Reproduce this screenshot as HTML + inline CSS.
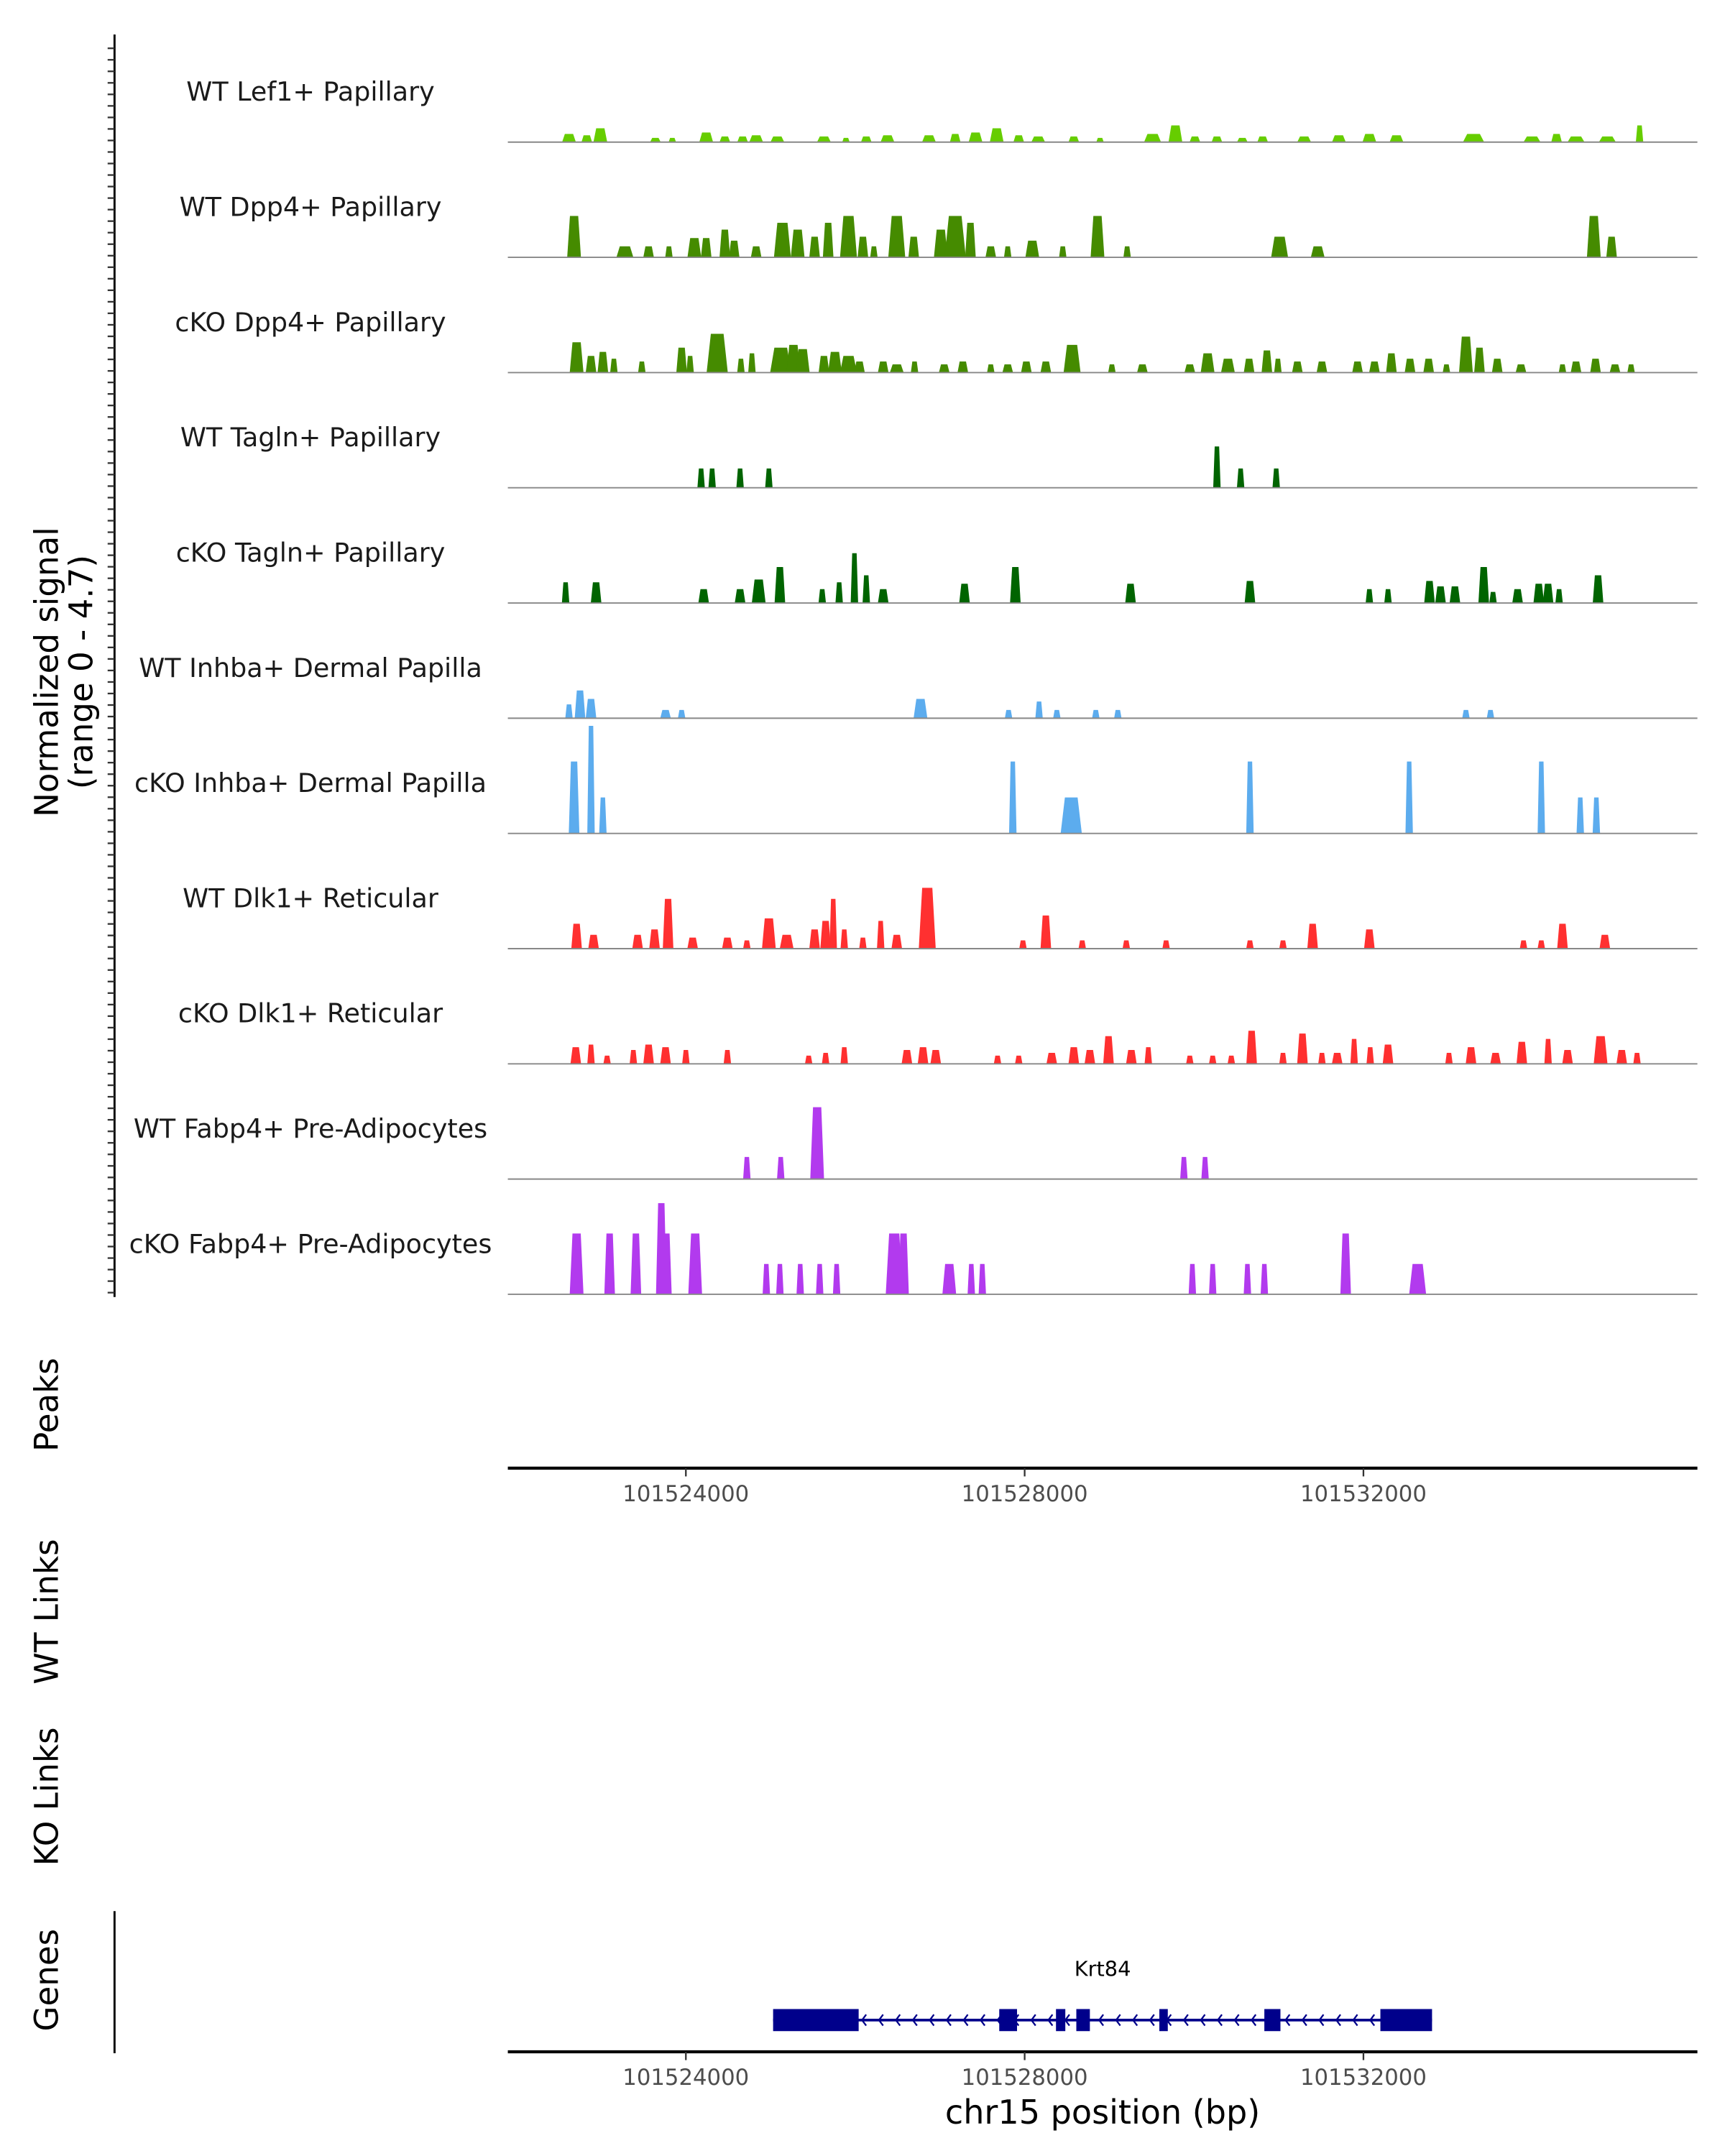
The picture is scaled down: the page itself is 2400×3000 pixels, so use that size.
<!DOCTYPE html>
<html><head><meta charset="utf-8"><title>Coverage plot Krt84</title>
<style>html,body{margin:0;padding:0;background:#fff}svg{display:block}text{font-family:"DejaVu Sans","Liberation Sans",sans-serif}</style>
</head><body>
<svg id="chart" xmlns="http://www.w3.org/2000/svg" width="2400" height="3000" viewBox="0 0 1250 1562.5"></svg>
<script>
// Genomic window (bp) and axis ticks
const regionStart = 101521898;
const regionEnd = 101535943;
const xTicks = [101524000, 101528000, 101532000];
const signalMax = 4.7;
// track names and colours
const trackNames = ["WT Lef1+ Papillary","WT Dpp4+ Papillary","cKO Dpp4+ Papillary","WT Tagln+ Papillary","cKO Tagln+ Papillary","WT Inhba+ Dermal Papilla","cKO Inhba+ Dermal Papilla","WT Dlk1+ Reticular","cKO Dlk1+ Reticular","WT Fabp4+ Pre-Adipocytes","cKO Fabp4+ Pre-Adipocytes"];
const trackColors = ["#66CD00","#458B00","#458B00","#006400","#006400","#5CACEE","#5CACEE","#FF3030","#FF3030","#B23AEE","#B23AEE"];
// peaks: [kb offset from 101520000, width kb, signal]
const lef1WT = [[2.62,0.13,0.35],[2.83,0.1,0.29],[2.99,0.13,0.59],[3.64,0.1,0.18],[3.84,0.07,0.18],[4.24,0.13,0.41],[4.46,0.1,0.24],[4.67,0.1,0.24],[4.83,0.13,0.29],[5.08,0.13,0.24],[5.63,0.13,0.24],[5.89,0.07,0.18],[6.13,0.1,0.24],[6.38,0.13,0.29],[6.87,0.13,0.29],[7.18,0.1,0.35],[7.42,0.13,0.41],[7.67,0.13,0.59],[7.93,0.1,0.29],[8.16,0.13,0.24],[8.58,0.1,0.24],[8.89,0.07,0.18],[9.51,0.16,0.35],[9.78,0.13,0.71],[10.01,0.1,0.24],[10.27,0.1,0.24],[10.57,0.1,0.18],[10.81,0.1,0.24],[11.3,0.13,0.24],[11.71,0.13,0.29],[12.07,0.13,0.35],[12.39,0.13,0.29],[13.3,0.2,0.35],[13.99,0.16,0.24],[14.28,0.1,0.35],[14.51,0.16,0.24],[14.88,0.16,0.24],[15.26,0.07,0.71]];
const dpp4WT = [[2.68,0.13,1.76],[3.28,0.16,0.47],[3.56,0.1,0.47],[3.8,0.07,0.47],[4.1,0.13,0.82],[4.24,0.1,0.82],[4.46,0.1,1.18],[4.57,0.1,0.71],[4.83,0.1,0.47],[5.14,0.16,1.47],[5.32,0.13,1.18],[5.52,0.1,0.88],[5.68,0.1,1.47],[5.92,0.16,1.76],[6.09,0.1,0.88],[6.22,0.07,0.47],[6.49,0.16,1.76],[6.69,0.1,0.88],[7.01,0.13,1.18],[7.18,0.2,1.76],[7.36,0.1,1.47],[7.6,0.1,0.47],[7.8,0.07,0.47],[8.09,0.13,0.71],[8.45,0.07,0.47],[8.86,0.13,1.76],[9.21,0.07,0.47],[11.01,0.16,0.88],[11.46,0.13,0.47],[14.72,0.13,1.76],[14.93,0.1,0.88]];
const dpp4KO = [[2.71,0.13,1.29],[2.88,0.1,0.71],[3.02,0.1,0.88],[3.15,0.07,0.59],[3.48,0.07,0.47],[3.95,0.1,1.06],[4.05,0.07,0.71],[4.37,0.2,1.65],[4.65,0.07,0.59],[4.78,0.07,0.82],[5.12,0.2,1.06],[5.27,0.13,1.18],[5.38,0.13,1.0],[5.63,0.1,0.71],[5.76,0.13,0.88],[5.92,0.16,0.71],[6.05,0.1,0.47],[6.33,0.1,0.47],[6.49,0.13,0.35],[6.7,0.07,0.47],[7.05,0.1,0.35],[7.27,0.1,0.47],[7.6,0.07,0.35],[7.8,0.1,0.35],[8.02,0.1,0.47],[8.25,0.1,0.47],[8.56,0.16,1.18],[9.03,0.07,0.35],[9.39,0.1,0.35],[9.95,0.1,0.35],[10.16,0.13,0.82],[10.4,0.13,0.59],[10.65,0.1,0.59],[10.86,0.1,0.94],[10.99,0.07,0.59],[11.22,0.1,0.47],[11.51,0.1,0.47],[11.93,0.1,0.47],[12.13,0.1,0.47],[12.33,0.1,0.82],[12.55,0.1,0.59],[12.77,0.1,0.59],[12.98,0.07,0.35],[13.21,0.13,1.53],[13.37,0.1,1.06],[13.58,0.1,0.59],[13.86,0.1,0.35],[14.35,0.07,0.35],[14.51,0.1,0.47],[14.74,0.1,0.59],[14.97,0.1,0.35],[15.16,0.07,0.35]];
const taglnWT = [[4.18,0.07,0.82],[4.31,0.07,0.82],[4.64,0.07,0.82],[4.98,0.07,0.82],[10.27,0.07,1.76],[10.55,0.07,0.82],[10.97,0.07,0.82]];
const taglnKO = [[2.58,0.07,0.88],[2.94,0.1,0.88],[4.21,0.1,0.59],[4.64,0.1,0.59],[4.86,0.13,1.0],[5.11,0.1,1.53],[5.61,0.07,0.59],[5.81,0.07,0.88],[5.99,0.07,2.12],[6.13,0.07,1.18],[6.33,0.1,0.59],[7.29,0.1,0.82],[7.89,0.1,1.53],[9.25,0.1,0.82],[10.66,0.1,0.94],[12.07,0.07,0.59],[12.29,0.07,0.59],[12.78,0.1,0.94],[12.91,0.1,0.71],[13.08,0.1,0.71],[13.42,0.1,1.53],[13.53,0.07,0.47],[13.82,0.1,0.59],[14.07,0.1,0.82],[14.18,0.1,0.82],[14.31,0.07,0.59],[14.77,0.1,1.18]];
const inhbaWT = [[2.62,0.07,0.59],[2.75,0.1,1.18],[2.88,0.1,0.82],[3.76,0.1,0.35],[3.95,0.07,0.35],[6.77,0.13,0.82],[7.81,0.07,0.35],[8.17,0.07,0.71],[8.38,0.07,0.35],[8.84,0.07,0.35],[9.1,0.07,0.35],[13.21,0.07,0.35],[13.5,0.07,0.35]];
const inhbaKO = [[2.68,0.1,3.06],[2.88,0.07,4.58],[3.02,0.07,1.53],[7.86,0.07,3.06],[8.55,0.2,1.53],[10.66,0.07,3.06],[12.54,0.07,3.06],[14.1,0.07,3.06],[14.56,0.07,1.53],[14.75,0.07,1.53]];
const dlk1WT = [[2.71,0.1,1.06],[2.91,0.1,0.59],[3.43,0.1,0.59],[3.63,0.1,0.82],[3.79,0.1,2.12],[4.08,0.1,0.47],[4.49,0.1,0.47],[4.72,0.07,0.35],[4.98,0.13,1.29],[5.19,0.13,0.59],[5.52,0.1,0.82],[5.65,0.1,1.18],[5.74,0.07,2.12],[5.87,0.07,0.82],[6.09,0.07,0.47],[6.3,0.07,1.18],[6.49,0.1,0.59],[6.85,0.16,2.59],[7.98,0.07,0.35],[8.25,0.1,1.41],[8.68,0.07,0.35],[9.2,0.07,0.35],[9.67,0.07,0.35],[10.66,0.07,0.35],[11.05,0.07,0.35],[11.4,0.1,1.06],[12.07,0.1,0.82],[13.89,0.07,0.35],[14.1,0.07,0.35],[14.35,0.1,1.06],[14.85,0.1,0.59]];
const dlk1KO = [[2.7,0.1,0.71],[2.88,0.07,0.82],[3.07,0.07,0.35],[3.38,0.07,0.59],[3.56,0.1,0.82],[3.76,0.1,0.71],[4.0,0.07,0.59],[4.49,0.07,0.59],[5.45,0.07,0.35],[5.65,0.07,0.47],[5.87,0.07,0.71],[6.61,0.1,0.59],[6.8,0.1,0.71],[6.95,0.1,0.59],[7.68,0.07,0.35],[7.93,0.07,0.35],[8.32,0.1,0.47],[8.58,0.1,0.71],[8.77,0.1,0.59],[8.99,0.1,1.18],[9.26,0.1,0.59],[9.46,0.07,0.71],[9.95,0.07,0.35],[10.22,0.07,0.35],[10.44,0.07,0.35],[10.68,0.1,1.41],[11.05,0.07,0.47],[11.28,0.1,1.29],[11.51,0.07,0.47],[11.69,0.1,0.47],[11.89,0.07,1.06],[12.08,0.07,0.71],[12.29,0.1,0.82],[13.01,0.07,0.47],[13.27,0.1,0.71],[13.56,0.1,0.47],[13.87,0.1,0.94],[14.18,0.07,1.06],[14.41,0.1,0.59],[14.8,0.13,1.18],[15.05,0.1,0.59],[15.23,0.07,0.47]];
const fabp4WT = [[4.72,0.07,0.94],[5.12,0.07,0.94],[5.55,0.13,3.06],[9.88,0.07,0.94],[10.13,0.07,0.94]];
const fabp4KO = [[2.71,0.13,2.59],[3.1,0.1,2.59],[3.41,0.1,2.59],[3.71,0.1,3.88],[3.77,0.1,2.59],[4.11,0.13,2.59],[4.95,0.07,1.29],[5.11,0.07,1.29],[5.35,0.07,1.29],[5.58,0.07,1.29],[5.78,0.07,1.29],[6.46,0.16,2.59],[6.57,0.1,2.59],[7.11,0.13,1.29],[7.37,0.07,1.29],[7.5,0.07,1.29],[9.98,0.07,1.29],[10.22,0.07,1.29],[10.63,0.07,1.29],[10.83,0.07,1.29],[11.79,0.1,2.59],[12.64,0.16,1.29]];
const trackPeaks = [lef1WT,dpp4WT,dpp4KO,taglnWT,taglnKO,inhbaWT,inhbaKO,dlk1WT,dlk1KO,fabp4WT,fabp4KO];
// gene model (kb offsets from 101520000)
const geneName = "Krt84";
const geneSpan = [5.03, 12.81];
const geneExons = [[5.03,6.04],[7.70,7.91],[8.37,8.48],[8.61,8.77],[9.59,9.69],[10.83,11.02],[12.20,12.81]];

const NS = "http://www.w3.org/2000/svg";
const svg = document.getElementById("chart");
const X0 = 368, X1 = 1230;
const x = bp => X0 + (bp - regionStart) / (regionEnd - regionStart) * (X1 - X0);
const xk = kb => x(101520000 + kb * 1000);
const firstBase = 103, trackStep = 83.5, trackPx = 80;
const y = (i, v) => firstBase + i * trackStep - v / signalMax * trackPx;
function el(tag, attrs, parent) { const e = document.createElementNS(NS, tag); for (const k in attrs) e.setAttribute(k, attrs[k]); (parent || svg).appendChild(e); return e; }
function txt(s, attrs, parent) { const e = el("text", attrs, parent); e.textContent = s; return e; }

// left y axis
const ax = el("line", {x1:83,y1:25,x2:83,y2:940,stroke:"#000","stroke-width":1.5});


for (let t = 35; t <= 940; t += trackStep / 10) {
  const tk = el("line", {x1:78,y1:t,x2:83,y2:t,stroke:"#333","stroke-width":1.2});
  
  
}
const yt = txt("", {transform:"translate(46,487) rotate(-90)","text-anchor":"middle","font-size":23.5,fill:"#000"});


el("tspan", {x:0,dy:-4}, yt).textContent = "Normalized signal";
el("tspan", {x:0,dy:25}, yt).textContent = "(range 0 - 4.7)";

trackNames.forEach((name, i) => {
  const g = el("g", {});
  
  
  const base = y(i, 0);
  const lab = txt(name, {x:225,y:base-30,"text-anchor":"middle","font-size":19,fill:"#1a1a1a"}, g);
  
  
  trackPeaks[i].forEach(p => {
    const w = p[1] * 1.25;
    const a = xk(p[0] - w / 2), b = xk(p[0] + w / 2), top = y(i, p[2]), s = (b - a) * 0.2;
    const poly = el("polygon", {points:`${a},${base} ${a+s},${top} ${b-s},${top} ${b},${base}`, fill:trackColors[i]}, g);
    
    
  });
  const bl = el("line", {x1:X0,y1:base,x2:X1,y2:base,stroke:"#888","stroke-width":1}, g);
  
  
});

function xAxis(yy, name, withTitle) {
  const g = el("g", {});
  
  
  el("line", {x1:X0,y1:yy,x2:X1,y2:yy,stroke:"#000","stroke-width":2.2}, g);
  xTicks.forEach(t => {
    el("line", {x1:x(t),y1:yy,x2:x(t),y2:yy+6,stroke:"#333","stroke-width":1.2}, g);
    const tl = txt(String(t), {x:x(t),y:yy+24,"text-anchor":"middle","font-size":16,fill:"#4d4d4d"}, g);
    
    
  });
  if (withTitle) {
    const tt = txt("chr15 position (bp)", {x:799,y:yy+52,"text-anchor":"middle","font-size":24,fill:"#000"}, g);
    
    
  }
}
xAxis(1064, "peaks-x-axis", false);
xAxis(1487, "genes-x-axis", true);

[["Peaks",1018,"peaks-label"],["WT Links",1168,"wt-links-label"],["KO Links",1302,"ko-links-label"],["Genes",1435,"genes-label"]].forEach(d => {
  const t = txt(d[0], {transform:`translate(42,${d[1]}) rotate(-90)`,"text-anchor":"middle","font-size":23.5,fill:"#000"});
  
  
});
const gax = el("line", {x1:83,y1:1385,x2:83,y2:1488,stroke:"#000","stroke-width":1.5});



// gene model
const gg = el("g", {});


const gy = 1464;
el("line", {x1:xk(geneSpan[0]),y1:gy,x2:xk(geneSpan[1]),y2:gy,stroke:"#00008B","stroke-width":2}, gg);
for (let k = geneSpan[0] + 0.25; k < geneSpan[1] - 0.2; k += 0.2) {
  const ax2 = xk(k);
  el("path", {d:`M${ax2+3},${gy-4} L${ax2},${gy} L${ax2+3},${gy+4}`, stroke:"#00008B", fill:"none","stroke-width":1.2}, gg);
}
geneExons.forEach(e => {
  const r = el("rect", {x:xk(e[0]),y:gy-8,width:xk(e[1])-xk(e[0]),height:16,fill:"#00008B"}, gg);
  
  
});
const gl = txt(geneName, {x:799,y:1432,"text-anchor":"middle","font-size":15,fill:"#000"}, gg);


</script>
</body></html>
